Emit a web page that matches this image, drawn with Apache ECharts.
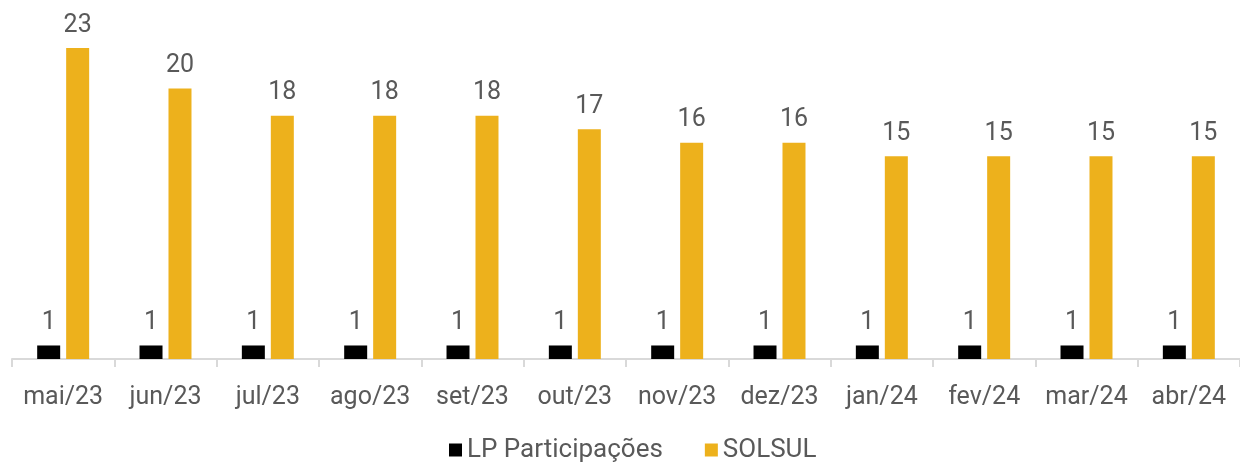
<!DOCTYPE html>
<html>
<head>
<meta charset="utf-8">
<script src="https://cdn.jsdelivr.net/npm/echarts@6/dist/echarts.min.js"></script>
<style>
  html, body { margin: 0; padding: 0; background: #fff; }
  #chart { width: 1240px; height: 464px; }
</style>
</head>
<body>
<div id="chart"></div>
<script>
// ── Data ──────────────────────────────────────────────────────────────────
const MONTHS = ['mai/23', 'jun/23', 'jul/23', 'ago/23', 'set/23', 'out/23', 'nov/23', 'dez/23', 'jan/24', 'fev/24', 'mar/24', 'abr/24']
const LP_VALUES = [1, 1, 1, 1, 1, 1, 1, 1, 1, 1, 1, 1]
const SOLSUL_VALUES = [23, 20, 18, 18, 18, 17, 16, 16, 15, 15, 15, 15]
const SERIES_NAMES = ['LP Participações', 'SOLSUL']

const FONT = 'Roboto, "Noto Sans", sans-serif'
const TEXT = '#595959'

const chart = echarts.init(document.getElementById('chart'))

const barLabel = {
  show: true,
  position: 'top',
  distance: 10,
  color: TEXT,
  fontSize: 25,
  fontFamily: FONT
}

chart.setOption({
  animation: false,
  grid: { left: 12, width: 1238, top: 21, height: 338 },
  legend: {
    top: 432,
    left: 444,
    itemWidth: 13,
    itemHeight: 13,
    itemGap: 42,
    icon: 'rect',
    textStyle: { color: TEXT, fontSize: 26, fontFamily: FONT },
    data: SERIES_NAMES
  },
  xAxis: {
    type: 'category',
    data: MONTHS,
    axisLine: { lineStyle: { color: '#d9d9d9', width: 2 } },
    axisTick: { show: true, length: 8, lineStyle: { color: '#d9d9d9', width: 2 } },
    axisLabel: { interval: 0, color: TEXT, fontSize: 25, fontFamily: FONT, margin: 26 }
  },
  yAxis: {
    type: 'value',
    min: 0,
    max: 25,
    show: false,
    splitLine: { show: false }
  },
  series: [
    {
      name: SERIES_NAMES[0],
      type: 'bar',
      data: LP_VALUES,
      barWidth: 23,
      barGap: '26%',
      itemStyle: { color: '#000000' },
      label: barLabel
    },
    {
      name: SERIES_NAMES[1],
      type: 'bar',
      data: SOLSUL_VALUES,
      barWidth: 23,
      itemStyle: { color: '#EDB11C' },
      label: barLabel
    }
  ]
})
</script>
</body>
</html>
